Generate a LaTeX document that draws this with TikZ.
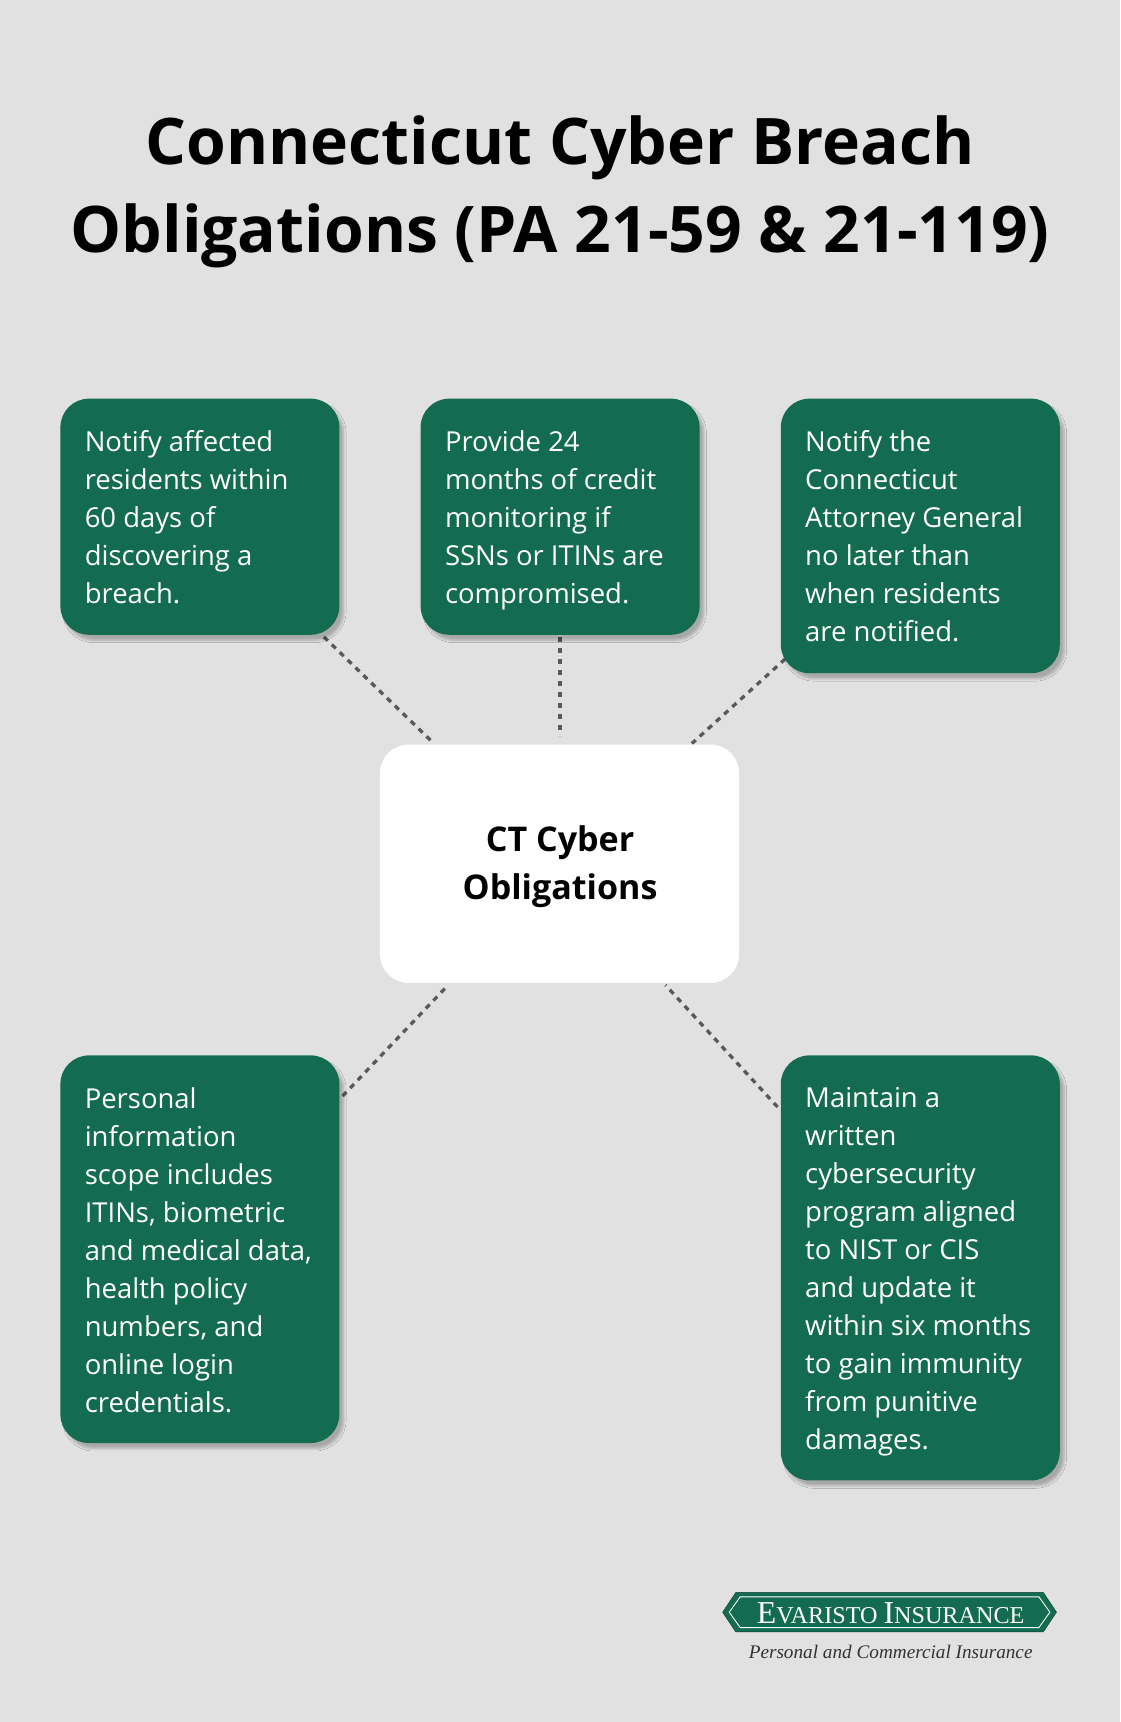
\documentclass[tikz,border=0pt]{standalone}
\usepackage{fontspec}
\setmainfont{Open Sans}
\newfontfamily\seriff{Liberation Serif}
\usetikzlibrary{shadows.blur}
\definecolor{bg}{HTML}{E0E1E0}
\definecolor{grn}{HTML}{136B50}
\begin{document}
\begin{tikzpicture}[x=1pt,y=-1pt,
  card/.style={fill=grn,rounded corners=26pt,blur shadow={shadow blur steps=6,shadow xshift=4pt,shadow yshift=-5pt,shadow opacity=25}},
  txt/.style={anchor=north west,text=white,align=left,font=\fontsize{25}{34.6}\selectfont,inner sep=0pt},
  link/.style={draw=black!65,line width=3pt,dash pattern=on 5pt off 5pt}]
\fill[bg] (0,0) rectangle (1020,1568);
\useasboundingbox (0,0) rectangle (1020,1568);
\node[font=\bfseries\fontsize{58.5}{80}\selectfont,align=center] (title) at (510,175) {Connecticut Cyber Breach\\Obligations (PA 21-59 \& 21-119)};
% links
\coordinate (l1a) at (295,580); \coordinate (l1b) at (393,675);
\coordinate (l2a) at (510,580); \coordinate (l2b) at (510,670);
\coordinate (l3a) at (715,600); \coordinate (l3b) at (630,677);
\coordinate (l4a) at (312,998); \coordinate (l4b) at (408,897);
\coordinate (l5a) at (708,1008); \coordinate (l5b) at (606,897);
\foreach \a/\b in {l1a/l1b,l2a/l2b,l3a/l3b,l4a/l4b,l5a/l5b} \draw[link] (\a)--(\b);
\path[card] (55,363) rectangle (309,578);
\path[card] (383,363) rectangle (637,578);
\path[card] (711,363) rectangle (965,613);
\path[card] (55,961) rectangle (309,1314);
\path[card] (711,961) rectangle (965,1348);
\path[fill=white,rounded corners=26pt] (346,678) rectangle (673,895);
\node[txt] (t1) at (77,392) {Notify affected\\residents within\\60 days of\\discovering a\\breach.};
\node[txt] (t2) at (405,392) {Provide 24\\months of credit\\monitoring if\\SSNs or ITINs are\\compromised.};
\node[txt] (t3) at (733,392) {Notify the\\Connecticut\\Attorney General\\no later than\\when residents\\are notified.};
\node[txt] (t4) at (77,990) {Personal\\information\\scope includes\\ITINs, biometric\\and medical data,\\health policy\\numbers, and\\online login\\credentials.};
\node[txt] (t5) at (733,990) {Maintain a\\written\\cybersecurity\\program aligned\\to NIST or CIS\\and update it\\within six months\\to gain immunity\\from punitive\\damages.};
\node[font=\bfseries\fontsize{31}{44}\selectfont,align=center] (c) at (510,789) {CT Cyber\\Obligations};
% logo
\path[fill=grn,draw=grn!60!black] (670,1450) -- (950,1450) -- (962,1468) -- (950,1486) -- (670,1486) -- (658,1468) -- cycle;
\draw[white,line width=0.8pt] (674,1454) -- (946,1454) -- (956,1468) -- (946,1482) -- (674,1482) -- (664,1468) -- cycle;
\node[text=white,font=\seriff\fontsize{29}{30}\selectfont] (logo) at (811,1469) {E\fontsize{22}{30}\selectfont VARISTO \fontsize{29}{30}\selectfont I\fontsize{22}{30}\selectfont NSURANCE};
\node[font=\seriff\itshape\fontsize{17.5}{18}\selectfont,text=black!80] (sub) at (811,1504) {Personal and Commercial Insurance};
\end{tikzpicture}
\end{document}
